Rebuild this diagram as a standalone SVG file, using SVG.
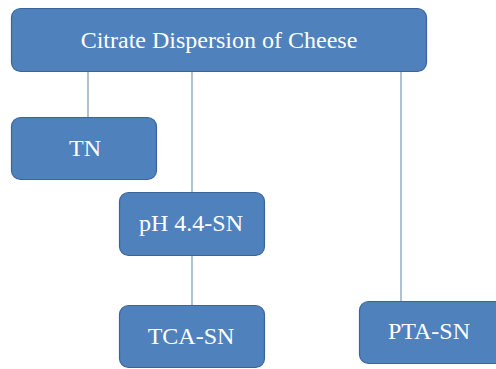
<svg xmlns="http://www.w3.org/2000/svg" width="496" height="369" viewBox="0 0 496 369">
<style>
.box{fill:#4f81bd;stroke:#3b659a;stroke-width:1.2}
.lbl{fill:#ffffff;font-family:"Liberation Serif","Times New Roman",serif;font-size:24px;text-anchor:middle;dominant-baseline:central}
.conn line{stroke:#7f97b8;stroke-width:1.2}
</style>
<rect width="496" height="369" fill="#ffffff"/>
<g class="conn" id="connectors">
<line x1="88" y1="72" x2="88" y2="117"/>
<line x1="192" y1="72" x2="192" y2="192"/>
<line x1="192" y1="256" x2="192" y2="305"/>
<line x1="401" y1="72" x2="401" y2="301"/>
</g>
<g id="root"><rect class="box" x="11.5" y="8.5" width="415" height="63" rx="9"/><text class="lbl" x="219" y="40">Citrate Dispersion of Cheese</text></g>
<g id="tn"><rect class="box" x="11.5" y="117.5" width="145" height="62" rx="9"/><text class="lbl" x="85" y="148">TN</text></g>
<g id="ph"><rect class="box" x="119.5" y="192.5" width="145" height="63" rx="9"/><text class="lbl" x="191" y="223">pH 4.4-SN</text></g>
<g id="tca"><rect class="box" x="119.5" y="305.5" width="145" height="62" rx="9"/><text class="lbl" x="191" y="336">TCA-SN</text></g>
<g id="pta"><rect class="box" x="359.5" y="301.5" width="145" height="62" rx="9"/><text class="lbl" x="429" y="331">PTA-SN</text></g>
</svg>
